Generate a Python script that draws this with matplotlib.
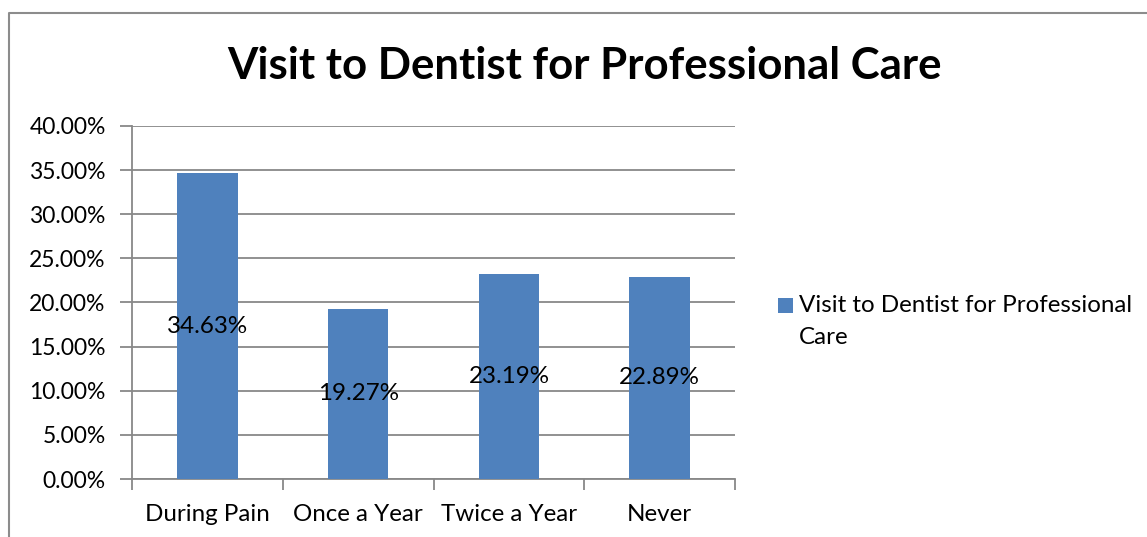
import matplotlib.pyplot as plt
from matplotlib.lines import Line2D
from matplotlib.patches import Rectangle
from matplotlib.ticker import PercentFormatter, FixedLocator

plt.rcParams['font.family'] = ['Lato', 'DejaVu Sans']

categories = ['During Pain', 'Once a Year', 'Twice a Year', 'Never']
values = [34.63, 19.27, 23.19, 22.89]
series_lines = ['Visit to Dentist for Professional', 'Care']

bar_color = '#4F81BD'
grid_color = '#888888'
fs_tick = 16.5
fs = 17.4

fig = plt.figure(figsize=(11.47, 5.37), dpi=100)
ax = fig.add_axes([0.1151, 0.108, 0.5257, 0.6574])

x = range(len(categories))
bars = ax.bar(x, values, width=0.4, color=bar_color, zorder=3)

# value labels centred in each bar
for b, v in zip(bars, values):
    ax.text(b.get_x() + b.get_width() / 2, v / 2, f'{v:.2f}%', ha='center', va='center',
            fontsize=fs, color='black', zorder=4)

ax.set_xlim(-0.5, len(categories) - 0.5)
ax.set_ylim(0, 40)
ax.set_yticks([0, 5, 10, 15, 20, 25, 30, 35, 40])
ax.yaxis.set_major_formatter(PercentFormatter(decimals=2))
ax.yaxis.grid(True, color=grid_color, linewidth=1.3, zorder=0)

ax.set_xticks(list(x))
ax.set_xticklabels(categories)
ax.xaxis.set_minor_locator(FixedLocator([-0.5, 0.5, 1.5, 2.5, 3.5]))
ax.tick_params(axis='x', which='major', length=0, pad=18, labelsize=fs)
ax.tick_params(axis='x', which='minor', length=8, width=1.3, color=grid_color, direction='out')
ax.tick_params(axis='y', length=9, width=1.3, color=grid_color, pad=10, labelsize=fs_tick)

for side in ['top', 'right']:
    ax.spines[side].set_visible(False)
for side in ['left', 'bottom']:
    ax.spines[side].set_color(grid_color)
    ax.spines[side].set_linewidth(1.3)

fig.text(0.51, 0.878, 'Visit to Dentist for Professional Care', ha='center', va='center',
         fontsize=31.5, fontweight='bold')

# legend: colour key plus wrapped series name
fig.add_artist(Rectangle((0.6783, 0.4171), 0.0131, 0.0279, transform=fig.transFigure,
                         facecolor=bar_color, edgecolor='none'))
fig.text(0.6966, 0.432, series_lines[0], ha='left', va='center', fontsize=fs)
fig.text(0.6966, 0.3706, series_lines[1], ha='left', va='center', fontsize=fs)

# chart border (left and top edges inside the canvas)
fig.add_artist(Line2D([0.008, 0.008, 1.0], [0.0, 0.976, 0.976], transform=fig.transFigure,
                      color='#8c8c8c', linewidth=1.5))

fig.savefig('out.png', dpi=100)
